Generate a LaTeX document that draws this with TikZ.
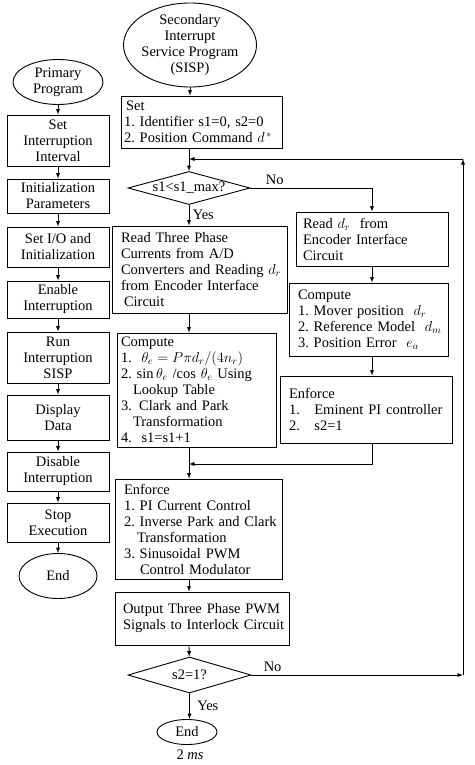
\documentclass[tikz,border=0pt]{standalone}
\usepackage{fontspec}
\setmainfont{Liberation Serif}
\usepackage{amsmath}
\usetikzlibrary{arrows,positioning,calc,shapes.geometric}

\begin{document}
\begin{tikzpicture}[x=1pt, y=-1pt, >=latex, line width=0.9pt,
  font=\fontsize{14.5}{16}\selectfont,
  term/.style={draw, ellipse, align=center, inner sep=0pt},
  stepbox/.style={draw, align=center, minimum width=102pt, inner sep=1pt},
  proc/.style={draw, align=left, inner ysep=2pt, execute at begin node={\hyphenpenalty=10000 \exhyphenpenalty=10000}},
  decision/.style={draw, diamond, aspect=3.7, inner sep=0pt}]
\useasboundingbox (0,0) rectangle (474,765);

% primary program
\node[term, minimum width=90pt, minimum height=45pt] (prim) at (58,82) {Primary\\Program};
\node[stepbox, minimum height=51pt] (setint) at (58,140.5) {Set\\Interruption\\Interval};
\node[stepbox, minimum height=34pt] (initp) at (58,196) {Initialization\\Parameters};
\node[stepbox, minimum height=40pt] (setio) at (58,247) {Set I/O and\\Initialization};
\node[stepbox, minimum height=37pt] (enab) at (58,299.5) {Enable\\Interruption};
\node[stepbox, minimum height=51pt] (runi) at (58,357.5) {Run\\Interruption\\SISP};
\node[stepbox, minimum height=45pt] (disp) at (58,417.5) {Display\\Data};
\node[stepbox, minimum height=39pt] (disab) at (58,471.5) {Disable\\Interruption};
\node[stepbox, minimum height=39pt] (stopx) at (58,522.5) {Stop\\Execution};
\node[term, minimum width=78pt, minimum height=45pt] (endl) at (58,576) {End};

\draw[->] (prim) -- (setint);
\draw[->] (setint) -- (initp);
\draw[->] (initp) -- (setio);
\draw[->] (setio) -- (enab);
\draw[->] (enab) -- (runi);
\draw[->] (runi) -- (disp);
\draw[->] (disp) -- (disab);
\draw[->] (disab) -- (stopx);
\draw[->] (stopx) -- (endl);

% secondary interrupt service program
\node[term, inner sep=-4pt, minimum width=133pt, minimum height=84pt] (sisp) at (190,45) {Secondary\\Interrupt\\Service Program\\(SISP)};
\node[proc, text width=155pt, inner xsep=3pt, minimum height=52pt] (sets) at (201.5,122) {\hspace*{2pt}Set\\ 1.~Identifier~s1=0,~s2=0\\ 2.~Position~Command\ $d^{\,*}$};
\node[decision, minimum width=122pt, minimum height=33pt] (dec1) at (189,188) {s1<s1\_max?};
\node[proc, text width=157pt, inner xsep=9pt, minimum height=87pt] (readc) at (199.5,269.5) {Read Three Phase\\ Currents from A/D\\ Converters~and~Reading~$d_r$\\ from~Encoder~Interface\\ \hspace*{3pt}Circuit};
\node[proc, text width=138pt, inner xsep=7pt, minimum height=54pt] (readd) at (372,239) {Read $d_r$\ \ from\\ Encoder~Interface\\ Circuit};
\node[proc, text width=141pt, inner xsep=9pt, minimum height=73pt] (compr) at (368.5,319.5) {Compute\\ 1.~Mover~position~~$d_r$\\ 2.~Reference~Model~~$d_m$\\ 3.~Position~Error~~$e_a$};
\node[proc, text width=154pt, inner xsep=9pt, minimum height=67pt] (enfr) at (366,409.5) {Enforce\\ 1.\ \ \ Eminent~PI~controller\\ 2.\ \ \ s2=1};
\node[proc, text width=151pt, inner xsep=4pt, minimum height=114pt] (compl) at (196.5,390) {Compute\\ 1.\ \ $\theta_e = P\pi d_r/(4n_r)$\\ 2.~$\sin\theta_e$~/cos~$\theta_e$~Using\\ \hspace*{12pt}Lookup Table\\ 3. Clark and Park\\ \hspace*{12pt}Transformation\\ 4.\ \ s1=s1+1};
\node[proc, text width=149pt, inner xsep=9pt, minimum height=100pt] (enfl) at (198.5,529) {Enforce\\ 1.~PI~Current~Control\\ 2.~Inverse~Park~and~Clark\\ \hspace*{13pt}Transformation\\ 3.~Sinusoidal~PWM\\ \hspace*{16pt}Control~Modulator};
\node[proc, text width=158pt, inner xsep=8pt, minimum height=53pt] (outp) at (202,618.5) {Output~Three~Phase~PWM\\ Signals~to~Interlock~Circuit};
\node[decision, minimum width=123pt, minimum height=36pt] (dec2) at (189.5,675) {s2=1?};
\node[term, minimum width=60pt, minimum height=25pt] (endr) at (187,732) {End};
\node (tms) at (190,755) {2 \textit{ms}};

% loop corners
\coordinate (loopb) at (463,675);
\coordinate (loopt) at (463,159);
\coordinate (topm) at (189,159);
\coordinate (mrg) at (189,464);

\draw[->] (sisp) -- (sisp |- sets.north);
\draw[->] (dec1 |- sets.south) -- (dec1);
\draw[->] (dec1) -- node[right]{Yes} (dec1 |- readc.north);
\draw[->] (dec1) -| node[above, pos=0.1]{No} (readd);
\draw[->] (readd) -- (readd |- compr.north);
\draw[->] (readd |- compr.south) -- (readd |- enfr.north);
\draw[->] (readd |- enfr.south) |- (mrg);
\draw[->] (dec1 |- readc.south) -- (dec1 |- compl.north);
\draw[->] (dec1 |- compl.south) -- (dec1 |- enfl.north);
\draw[->] (dec1 |- enfl.south) -- (dec1 |- outp.north);
\draw[->] (dec1 |- outp.south) -- (dec2);
\draw[->] (dec2) -- node[right, xshift=4pt]{Yes} (dec2 |- endr.north);

% return to top
\draw[->] (dec2) -- node[above, pos=0.1]{No} (loopb);
\draw[->] (loopb) -- (loopt);
\draw[->] (loopt) -- (topm);
\end{tikzpicture}
\end{document}
